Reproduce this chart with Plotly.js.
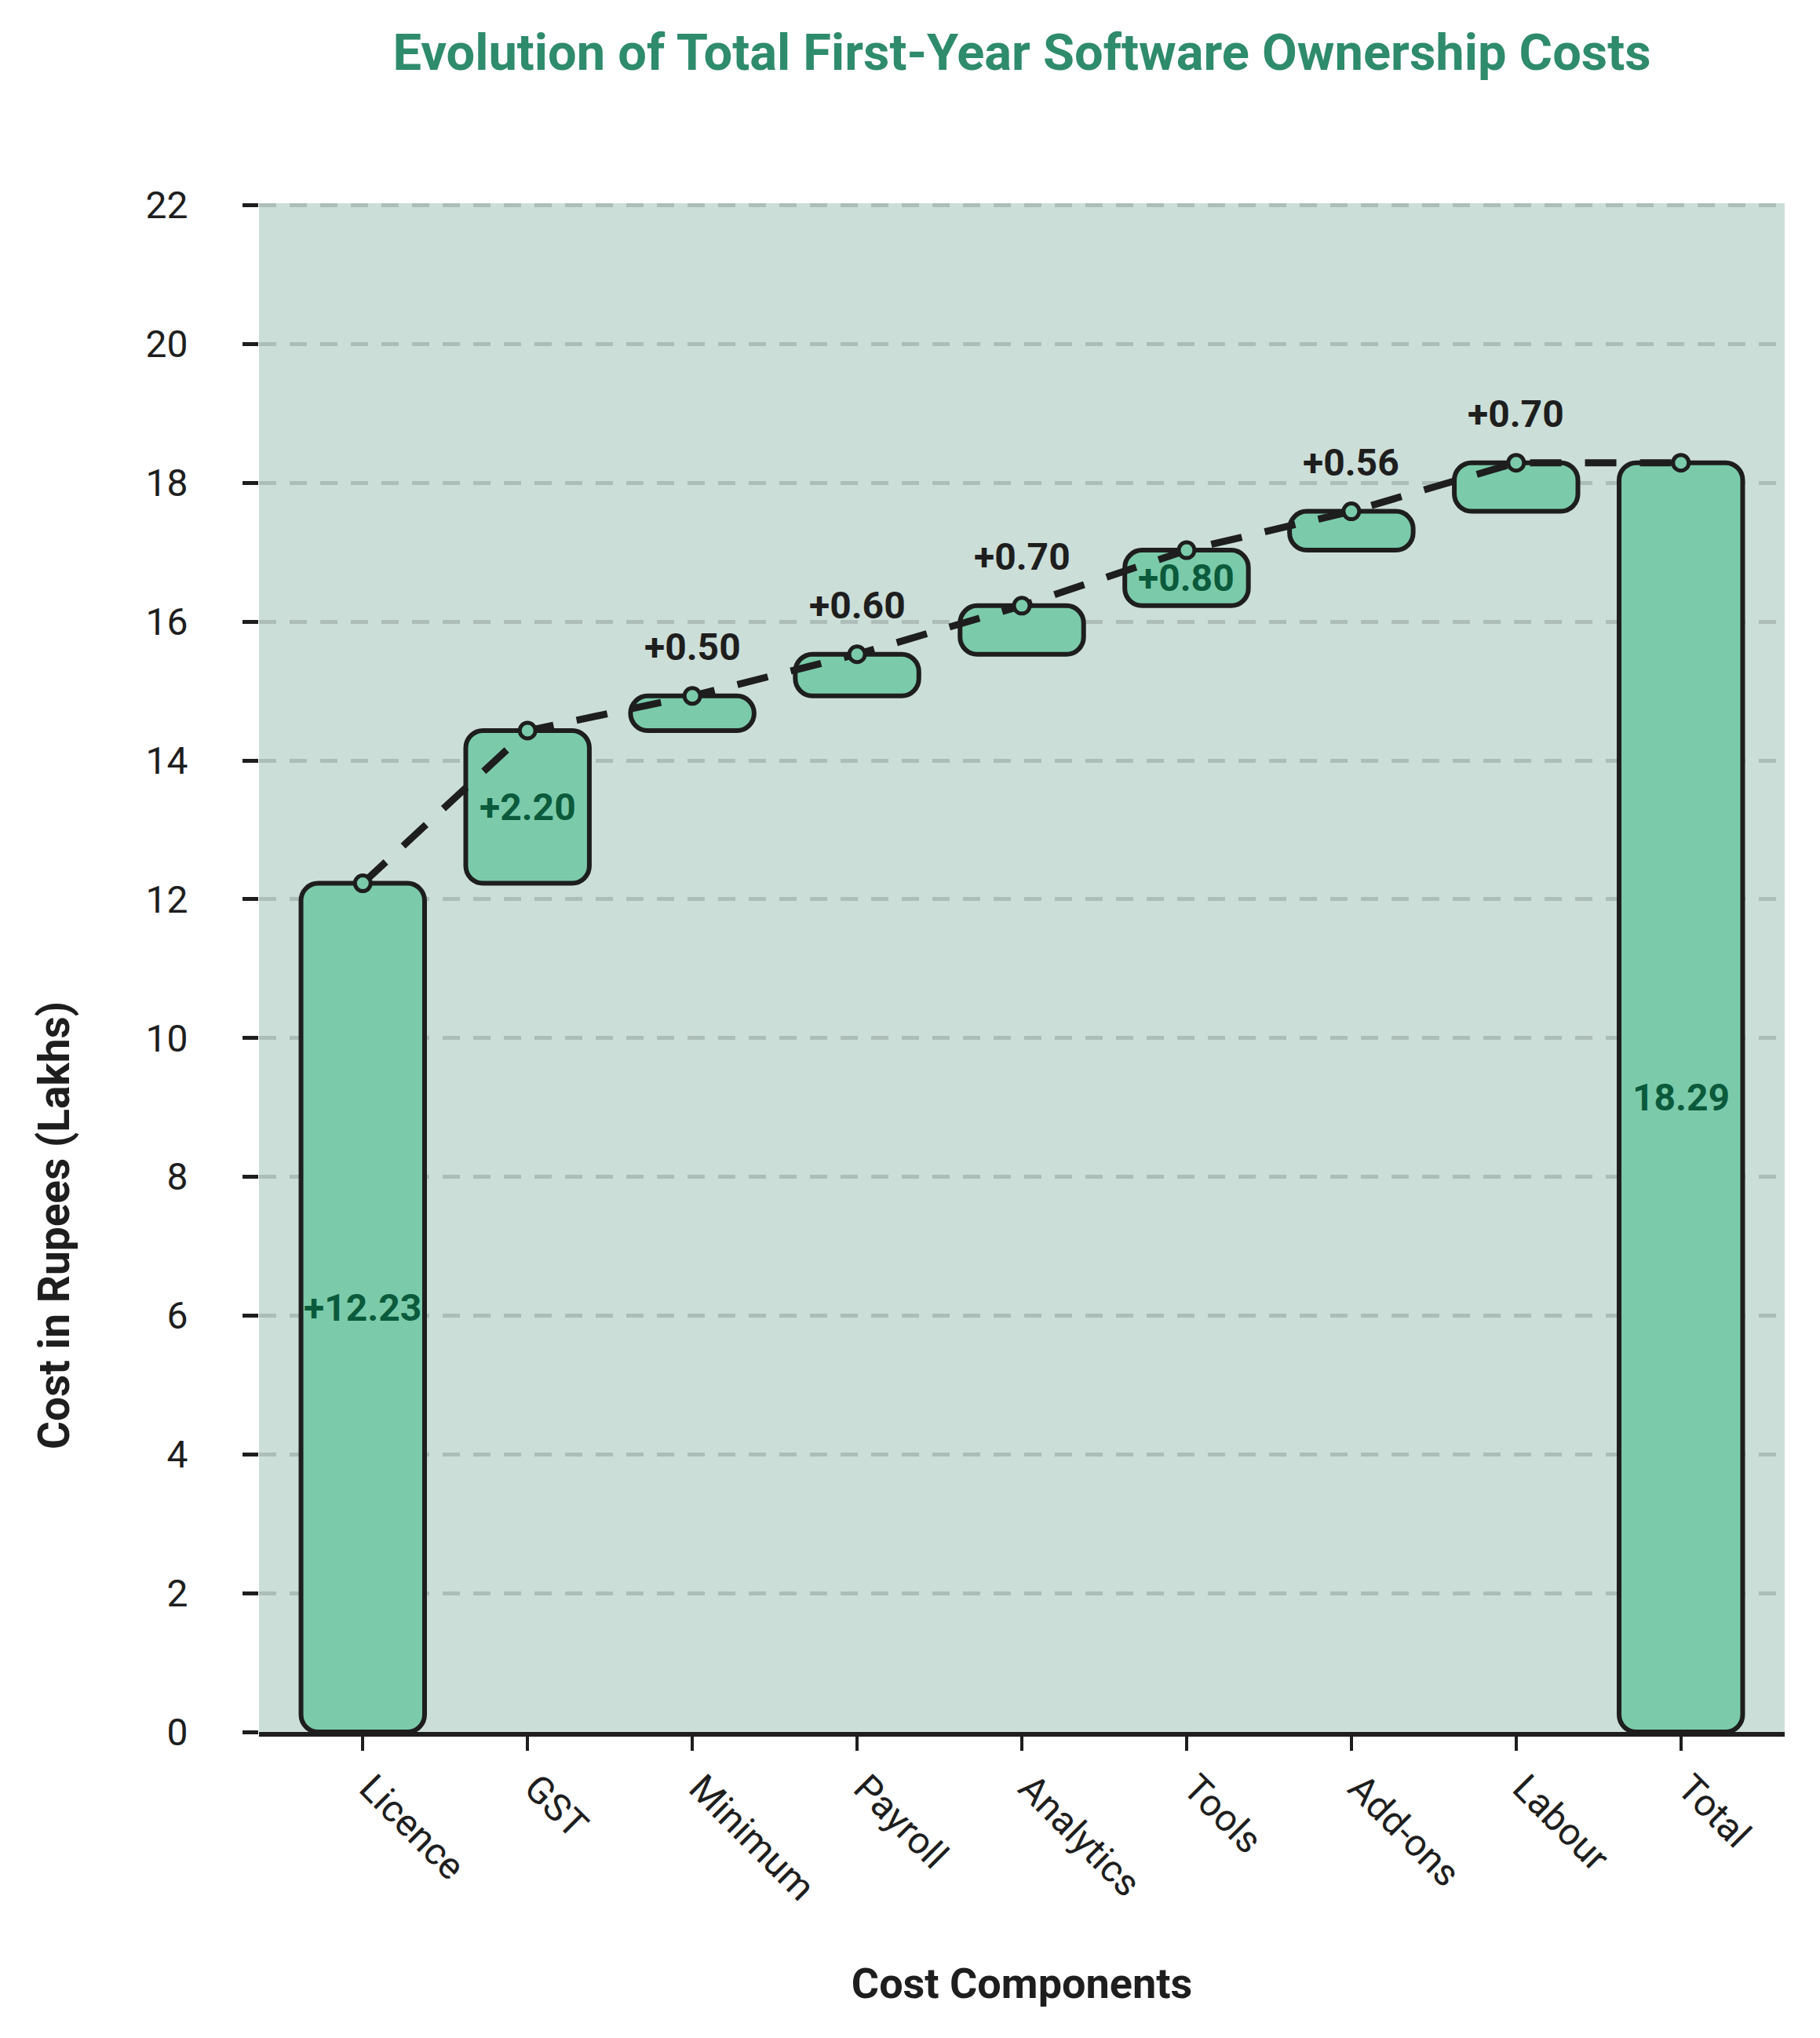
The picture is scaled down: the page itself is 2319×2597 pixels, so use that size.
<!DOCTYPE html>
<html>
<head>
<meta charset="utf-8">
<script src="https://cdn.plot.ly/plotly-3.0.1.min.js"></script>
<style>
  html, body { margin: 0; padding: 0; background: #ffffff; }
  #chart { width: 2319px; height: 2597px; }
</style>
</head>
<body>
<div id="chart"></div>
<script>
// ---- data ----
const categories = ['Licence', 'GST', 'Minimum', 'Payroll', 'Analytics', 'Tools', 'Add-ons', 'Labour', 'Total'];
const changes = [12.23, 2.20, 0.50, 0.60, 0.70, 0.80, 0.56, 0.70];
const totalValue = 18.29;
const yTickValues = [0, 2, 4, 6, 8, 10, 12, 14, 16, 18, 20, 22];
const chartTitle = 'Evolution of Total First-Year Software Ownership Costs';
const xTitle = 'Cost Components';
const yTitle = 'Cost in Rupees (Lakhs)';

// ---- derived waterfall geometry (from data) ----
const bases = [];
const heights = [];
let running = 0;
changes.forEach(function (c) {
  bases.push(running);
  heights.push(c);
  running = Math.round((running + c) * 100) / 100;
});
bases.push(0);
heights.push(totalValue);
const tops = bases.map(function (b, i) { return Math.round((b + heights[i]) * 100) / 100; });
const labels = changes.map(function (c) { return '+' + c.toFixed(2); }).concat([totalValue.toFixed(2)]);

const dark = '#1e1e1e';
const barFill = '#7bcbaa';

const bars = {
  type: 'bar',
  x: categories,
  y: heights,
  base: bases,
  width: 0.75,
  marker: {
    color: barFill,
    cornerradius: 22,
    line: { color: dark, width: 6 }
  },
  hoverinfo: 'skip',
  showlegend: false
};

const connector = {
  type: 'scatter',
  mode: 'lines+markers',
  x: categories,
  y: tops,
  line: { color: dark, width: 9, dash: '40px,30px' },
  marker: { symbol: 'circle', size: 20, color: barFill, line: { color: dark, width: 5 } },
  hoverinfo: 'skip',
  showlegend: false
};

const annotations = categories.map(function (cat, i) {
  const inside = heights[i] >= 0.8;
  return {
    x: cat,
    y: inside ? bases[i] + heights[i] / 2 : tops[i],
    xref: 'x',
    yref: 'y',
    text: '<b>' + labels[i] + '</b>',
    showarrow: false,
    yanchor: 'middle',
    xanchor: 'center',
    yshift: inside ? 0 : 62,
    font: { family: 'Roboto, sans-serif', size: 48, color: inside ? '#0b5a3c' : dark }
  };
});

// y-axis title (placed where the reference draws it)
annotations.push({
  text: '<b>' + yTitle + '</b>',
  xref: 'paper', yref: 'paper',
  x: -0.1343, y: 0.3316,
  xanchor: 'center', yanchor: 'middle',
  textangle: -90,
  showarrow: false,
  font: { family: 'Roboto, sans-serif', size: 55, color: dark }
});

const layout = {
  width: 2319,
  height: 2597,
  margin: { l: 330, r: 45, t: 259, b: 390 },
  paper_bgcolor: '#ffffff',
  plot_bgcolor: '#ccded8',
  font: { family: 'Roboto, sans-serif', size: 48, color: dark },
  title: {
    text: '<b>' + chartTitle + '</b>',
    font: { family: 'Roboto, sans-serif', size: 65, color: '#2e8b6b' },
    x: 0.5, xref: 'paper', xanchor: 'center',
    y: 1 - 66 / 2597, yref: 'container', yanchor: 'middle'
  },
  xaxis: {
    type: 'category',
    range: [-0.63, 8.63],
    showgrid: false,
    zeroline: false,
    showline: true,
    linecolor: dark,
    linewidth: 6,
    ticks: 'outside',
    ticklen: 18,
    tickwidth: 4,
    tickcolor: dark,
    tickangle: 45,
    ticklabelshift: 10,
    tickfont: { family: 'Roboto, sans-serif', size: 48, color: dark },
    title: {
      text: '<b>' + xTitle + '</b>',
      font: { family: 'Roboto, sans-serif', size: 54, color: dark },
      standoff: 78
    }
  },
  yaxis: {
    range: [0, 22.03],
    tickmode: 'array',
    tickvals: yTickValues,
    ticktext: yTickValues.map(String),
    showgrid: true,
    gridcolor: '#adbdb8',
    gridwidth: 5,
    griddash: '22px,17px',
    zeroline: false,
    showline: false,
    ticks: 'outside',
    ticklen: 20,
    tickwidth: 5,
    tickcolor: dark,
    ticklabelstandoff: 60,
    tickfont: { family: 'Roboto, sans-serif', size: 48, color: dark }
  },
  annotations: annotations,
  barmode: 'overlay',
  showlegend: false
};

Plotly.newPlot('chart', [bars, connector], layout, { displayModeBar: false, staticPlot: true });
</script>
</body>
</html>
